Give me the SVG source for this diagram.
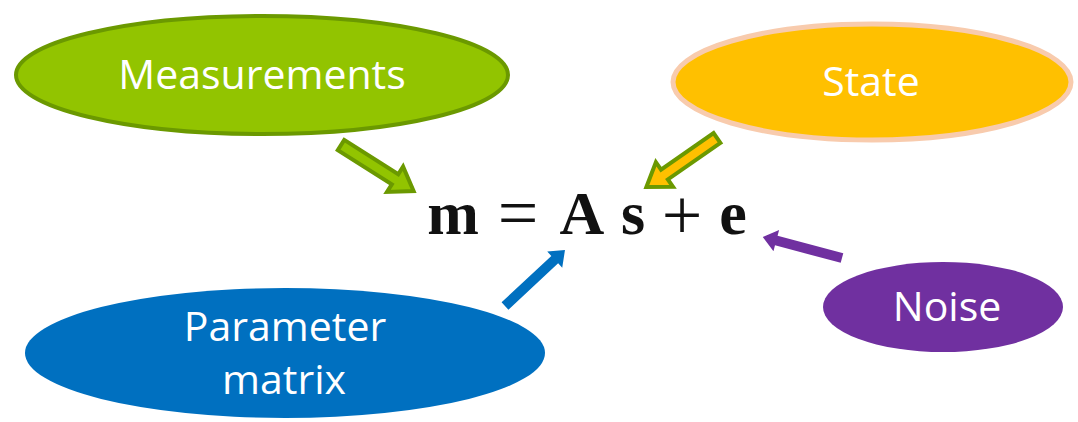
<svg xmlns="http://www.w3.org/2000/svg" width="1078" height="422" viewBox="0 0 1078 422">
<style>
.lbl{font-family:"Open Sans","Noto Sans",sans-serif;font-size:41px;fill:#ffffff;text-anchor:middle}
.eq{font-family:"Liberation Serif","DejaVu Serif",serif;font-size:62px;font-weight:bold;fill:#111111;text-anchor:middle}
.op{font-family:"Liberation Serif","DejaVu Serif",serif;font-size:72px;font-weight:normal;fill:#111111;text-anchor:middle}
</style>
<rect width="1078" height="422" fill="#ffffff"/>
<g id="measurements">
<ellipse cx="262" cy="75" rx="246" ry="59" fill="#92c400" stroke="#6b9900" stroke-width="4"/>
<text class="lbl" x="262" y="89">Measurements</text>
</g>
<g id="state">
<ellipse cx="872" cy="82" rx="199" ry="58" fill="#ffc000" stroke="#f8cbad" stroke-width="5"/>
<text class="lbl" x="871" y="96">State</text>
</g>
<g id="parameter">
<ellipse cx="285" cy="353" rx="260" ry="65" fill="#0070c0"/>
<text class="lbl" x="285" y="341">Parameter</text>
<text class="lbl" x="284" y="394">matrix</text>
</g>
<g id="noise">
<ellipse cx="943" cy="307" rx="120" ry="45" fill="#7030a0"/>
<text class="lbl" x="947" y="321">Noise</text>
</g>
<g id="equation">
<text class="eq" x="453" y="234">m</text>
<text class="op" x="518" y="237">=</text>
<text class="eq" x="582" y="234">A</text>
<text class="eq" x="633" y="234">s</text>
<text class="op" x="682" y="239">+</text>
<text class="eq" x="733" y="234">e</text>
</g>
<g id="connectors">
<polygon transform="translate(341,145) rotate(32.4)" points="0,-6 64,-6 64,-15 86,0 64,15 64,6 0,6" fill="#92c400" stroke="#6b9900" stroke-width="4" stroke-linejoin="miter"/>
<polygon transform="translate(717,138) rotate(145.2)" points="0,-6 64,-6 64,-15 86,0 64,15 64,6 0,6" fill="#ffc000" stroke="#6b9900" stroke-width="4" stroke-linejoin="miter"/>
<polygon transform="translate(505,306) rotate(-43)" points="0,-5 68,-5 68,-11 82,0 68,11 68,5 0,5" fill="#0070c0"/>
<polygon transform="translate(842,258) rotate(194.9)" points="0,-5 68,-5 68,-11 82,0 68,11 68,5 0,5" fill="#7030a0"/>
</g>
</svg>
